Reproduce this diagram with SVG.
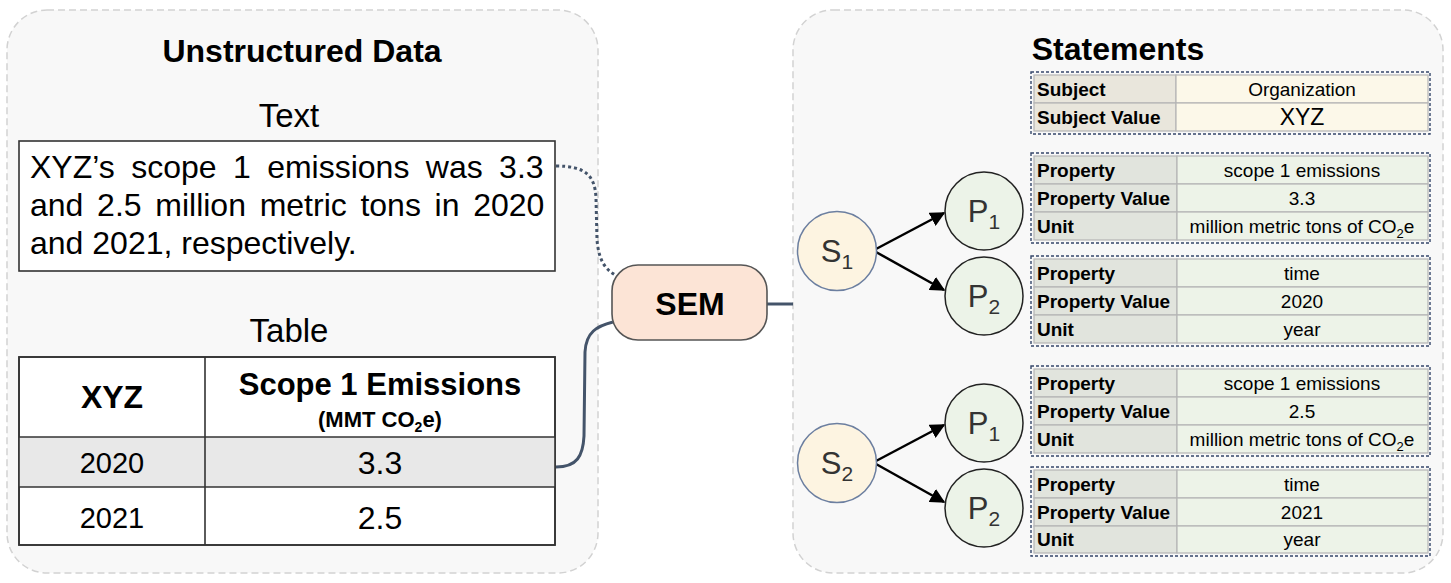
<svg xmlns="http://www.w3.org/2000/svg" width="1451" height="583" viewBox="0 0 1451 583">
<style>
.panel{fill:#f8f8f8;stroke:#d2d2d2;stroke-width:1.5;stroke-dasharray:7,4}
.h{font-family:"Liberation Sans",Arial,sans-serif;font-weight:bold;fill:#000}
.r{font-family:"Liberation Sans",Arial,sans-serif;fill:#000}
.box{fill:#fff;stroke:#333;stroke-width:1.6}
.grid{stroke:#333;stroke-width:1.6}
.conn{fill:none;stroke:#44546a;stroke-width:3}
.dot{fill:none;stroke:#44546a;stroke-width:3;stroke-dasharray:3,3}
.sc{fill:#fdf4e1;stroke:#6c7fa0;stroke-width:1.5}
.pc{fill:#ecf3e8;stroke:#222;stroke-width:1.5}
.ct{font-family:"Liberation Sans",Arial,sans-serif;font-size:31px;fill:#333;text-anchor:middle}
.arr{stroke:#000;stroke-width:2.5;fill:none}
.lab{fill:#e1e4dd;stroke:#b5b5b5;stroke-width:1.2}
.val{fill:#edf3e8;stroke:#b5b5b5;stroke-width:1.2}
.slab{fill:#e9e6dc;stroke:#b5b5b5;stroke-width:1.2}
.sval{fill:#fcf8e9;stroke:#b5b5b5;stroke-width:1.2}
.dash{fill:none;stroke:#34466a;stroke-width:1.4;stroke-dasharray:3,2}
.tl{font-family:"Liberation Sans",Arial,sans-serif;font-weight:bold;font-size:19px;fill:#000}
.tv{font-family:"Liberation Sans",Arial,sans-serif;font-size:19px;fill:#000;text-anchor:middle}
</style>
<defs>
<marker id="ah" viewBox="0 0 10 10" refX="9" refY="5" markerWidth="6" markerHeight="6" orient="auto" markerUnits="strokeWidth">
<path d="M0,0 L10,5 L0,10 z" fill="#000"/>
</marker>
</defs>

<g id="left-panel">
<rect class="panel" x="7" y="10" width="591" height="563" rx="40"/>
<text class="h" x="302" y="62" font-size="32" text-anchor="middle">Unstructured Data</text>
</g>

<g id="right-panel">
<rect class="panel" x="793" y="10" width="650" height="563" rx="40"/>
<text class="h" x="1118" y="60" font-size="32" text-anchor="middle">Statements</text>
</g>

<g id="text-node">
<text class="r" x="289" y="127" font-size="33" text-anchor="middle">Text</text>
<rect class="box" x="19" y="141" width="536" height="130"/>
<text class="r" x="30" y="178" font-size="32" word-spacing="7.5">XYZ’s scope 1 emissions was 3.3</text>
<text class="r" x="30" y="216" font-size="32" word-spacing="4.8">and 2.5 million metric tons in 2020</text>
<text class="r" x="30" y="254" font-size="32">and 2021, respectively.</text>
</g>

<g id="table-node">
<text class="r" x="289" y="342" font-size="33" text-anchor="middle">Table</text>
<rect class="box" x="19" y="357" width="536" height="188"/>
<rect x="19" y="437" width="536" height="50" fill="#e8e8e8"/>
<line class="grid" x1="19" y1="437" x2="555" y2="437"/>
<line class="grid" x1="19" y1="487" x2="555" y2="487"/>
<line class="grid" x1="205" y1="357" x2="205" y2="545"/>
<rect x="19" y="357" width="536" height="188" fill="none" stroke="#333" stroke-width="1.6"/>
<text class="h" x="112" y="408" font-size="32" text-anchor="middle">XYZ</text>
<text class="h" x="380" y="395" font-size="31" text-anchor="middle">Scope 1 Emissions</text>
<text class="h" x="380" y="427" font-size="22" text-anchor="middle">(MMT CO<tspan font-size="14" dy="5">2</tspan><tspan dy="-5">e)</tspan></text>
<text class="r" x="112" y="473" font-size="29" text-anchor="middle">2020</text>
<text class="r" x="380" y="474" font-size="32" text-anchor="middle">3.3</text>
<text class="r" x="112" y="528" font-size="29" text-anchor="middle">2021</text>
<text class="r" x="380" y="529" font-size="32" text-anchor="middle">2.5</text>
</g>

<g id="connectors">
<path class="dot" d="M556,166 C586,166 595,176 596,198 L597,240 C599,262 606,270 617,276"/>
<path class="conn" d="M556,467 C577,467 583,456 584,436 L585,352 C586,332 597,326 613,322"/>
<line class="conn" x1="767" y1="304" x2="793" y2="304"/>
<line class="arr" x1="876" y1="249" x2="944" y2="213" marker-end="url(#ah)"/>
<line class="arr" x1="876" y1="252" x2="944" y2="290" marker-end="url(#ah)"/>
<line class="arr" x1="876" y1="461" x2="944" y2="425" marker-end="url(#ah)"/>
<line class="arr" x1="876" y1="464" x2="944" y2="502" marker-end="url(#ah)"/>
</g>

<g id="sem">
<rect x="612" y="265" width="155" height="75" rx="26" fill="#fce4d6" stroke="#555" stroke-width="1.6"/>
<text class="h" x="690" y="315" font-size="32" text-anchor="middle">SEM</text>
</g>

<g id="s1">
<circle class="sc" cx="837" cy="251" r="39.5"/>
<text class="ct" x="837" y="262">S<tspan font-size="21" dy="7">1</tspan></text>
</g>
<g id="s1-p1">
<circle class="pc" cx="984" cy="211" r="39"/>
<text class="ct" x="984" y="222">P<tspan font-size="21" dy="7">1</tspan></text>
</g>
<g id="s1-p2">
<circle class="pc" cx="984" cy="296" r="39"/>
<text class="ct" x="984" y="307">P<tspan font-size="21" dy="7">2</tspan></text>
</g>
<g id="s2">
<circle class="sc" cx="837" cy="463" r="39.5"/>
<text class="ct" x="837" y="474">S<tspan font-size="21" dy="7">2</tspan></text>
</g>
<g id="s2-p1">
<circle class="pc" cx="984" cy="423" r="39"/>
<text class="ct" x="984" y="434">P<tspan font-size="21" dy="7">1</tspan></text>
</g>
<g id="s2-p2">
<circle class="pc" cx="984" cy="508" r="39"/>
<text class="ct" x="984" y="519">P<tspan font-size="21" dy="7">2</tspan></text>
</g>

<g id="subject-table">
<rect class="slab" x="1034" y="75" width="142" height="28"/>
<rect class="sval" x="1176" y="75" width="252" height="28"/>
<rect class="slab" x="1034" y="103" width="142" height="28"/>
<rect class="sval" x="1176" y="103" width="252" height="28"/>
<rect class="dash" x="1031" y="72" width="399" height="62"/>
<text class="tl" x="1037" y="96">Subject</text>
<text class="tv" x="1302" y="96">Organization</text>
<text class="tl" x="1037" y="124">Subject Value</text>
<text class="tv" x="1302" y="125" style="font-size:23px">XYZ</text>
</g>

<g id="s1-p1-table">
<rect class="lab" x="1034" y="156" width="143" height="28"/>
<rect class="val" x="1177" y="156" width="251" height="28"/>
<rect class="lab" x="1034" y="184" width="143" height="28"/>
<rect class="val" x="1177" y="184" width="251" height="28"/>
<rect class="lab" x="1034" y="212" width="143" height="28"/>
<rect class="val" x="1177" y="212" width="251" height="28"/>
<rect class="dash" x="1031" y="153" width="399" height="90"/>
<text class="tl" x="1037" y="177">Property</text>
<text class="tv" x="1302" y="177">scope 1 emissions</text>
<text class="tl" x="1037" y="205">Property Value</text>
<text class="tv" x="1302" y="205">3.3</text>
<text class="tl" x="1037" y="233">Unit</text>
<text class="tv" x="1302" y="233">million metric tons of CO<tspan font-size="13" dy="5">2</tspan><tspan dy="-5">e</tspan></text>
</g>

<g id="s1-p2-table">
<rect class="lab" x="1034" y="259" width="143" height="28"/>
<rect class="val" x="1177" y="259" width="251" height="28"/>
<rect class="lab" x="1034" y="287" width="143" height="28"/>
<rect class="val" x="1177" y="287" width="251" height="28"/>
<rect class="lab" x="1034" y="315" width="143" height="28"/>
<rect class="val" x="1177" y="315" width="251" height="28"/>
<rect class="dash" x="1031" y="256" width="399" height="90"/>
<text class="tl" x="1037" y="280">Property</text>
<text class="tv" x="1302" y="280">time</text>
<text class="tl" x="1037" y="308">Property Value</text>
<text class="tv" x="1302" y="308">2020</text>
<text class="tl" x="1037" y="336">Unit</text>
<text class="tv" x="1302" y="336">year</text>
</g>

<g id="s2-p1-table">
<rect class="lab" x="1034" y="369" width="143" height="28"/>
<rect class="val" x="1177" y="369" width="251" height="28"/>
<rect class="lab" x="1034" y="397" width="143" height="28"/>
<rect class="val" x="1177" y="397" width="251" height="28"/>
<rect class="lab" x="1034" y="425" width="143" height="28"/>
<rect class="val" x="1177" y="425" width="251" height="28"/>
<rect class="dash" x="1031" y="366" width="399" height="90"/>
<text class="tl" x="1037" y="390">Property</text>
<text class="tv" x="1302" y="390">scope 1 emissions</text>
<text class="tl" x="1037" y="418">Property Value</text>
<text class="tv" x="1302" y="418">2.5</text>
<text class="tl" x="1037" y="446">Unit</text>
<text class="tv" x="1302" y="446">million metric tons of CO<tspan font-size="13" dy="5">2</tspan><tspan dy="-5">e</tspan></text>
</g>

<g id="s2-p2-table">
<rect class="lab" x="1034" y="470" width="143" height="28"/>
<rect class="val" x="1177" y="470" width="251" height="28"/>
<rect class="lab" x="1034" y="498" width="143" height="28"/>
<rect class="val" x="1177" y="498" width="251" height="28"/>
<rect class="lab" x="1034" y="526" width="143" height="27"/>
<rect class="val" x="1177" y="526" width="251" height="27"/>
<rect class="dash" x="1031" y="467" width="399" height="89"/>
<text class="tl" x="1037" y="491">Property</text>
<text class="tv" x="1302" y="491">time</text>
<text class="tl" x="1037" y="519">Property Value</text>
<text class="tv" x="1302" y="519">2021</text>
<text class="tl" x="1037" y="546">Unit</text>
<text class="tv" x="1302" y="546">year</text>
</g>
</svg>
